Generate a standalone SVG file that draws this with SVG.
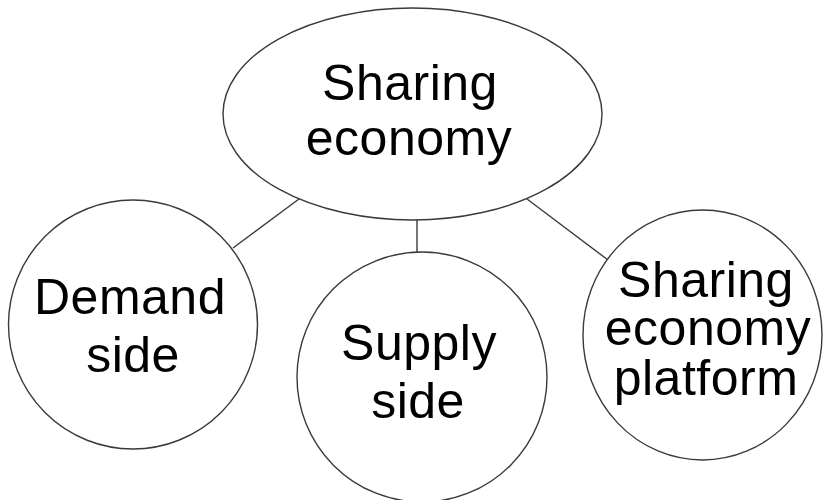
<svg xmlns="http://www.w3.org/2000/svg" width="823" height="500" viewBox="0 0 823 500">
<style>
.shape{fill:#ffffff;stroke:#3a3a3a;stroke-width:1.4}
.conn line{stroke:#3a3a3a;stroke-width:1.4}
.lbl{font-family:"Liberation Sans",Arial,sans-serif;font-size:50px;fill:#000000;text-anchor:middle;letter-spacing:0.5px}
</style>
<rect width="823" height="500" fill="#ffffff"/>
<g id="connectors" class="conn">
<line x1="299" y1="199" x2="233" y2="248"/>
<line x1="417" y1="220" x2="417" y2="252"/>
<line x1="527" y1="199" x2="608" y2="260"/>
</g>
<g id="sharing-economy">
<ellipse class="shape" cx="412.5" cy="114" rx="189.5" ry="106"/>
<text class="lbl" x="410" y="100">Sharing</text>
<text class="lbl" x="409" y="155">economy</text>
</g>
<g id="demand-side">
<circle class="shape" cx="133" cy="324.5" r="124.5"/>
<text class="lbl" x="130" y="314">Demand</text>
<text class="lbl" x="133" y="372">side</text>
</g>
<g id="supply-side">
<circle class="shape" cx="422" cy="377" r="125"/>
<text class="lbl" x="419" y="360">Supply</text>
<text class="lbl" x="418" y="418">side</text>
</g>
<g id="platform">
<ellipse class="shape" cx="702.5" cy="335" rx="119.5" ry="125"/>
<text class="lbl" x="706" y="297">Sharing</text>
<text class="lbl" x="708" y="345">economy</text>
<text class="lbl" x="706" y="395">platform</text>
</g>
</svg>
